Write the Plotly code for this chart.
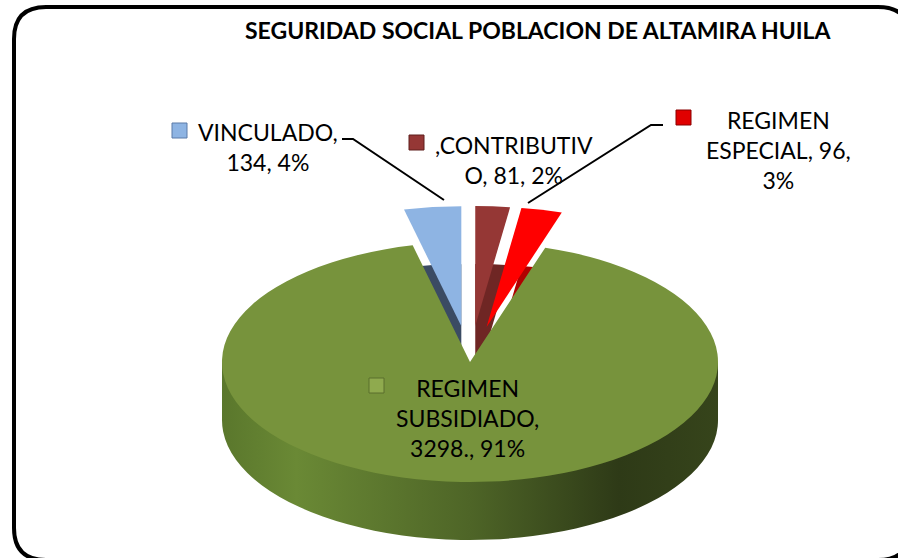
import plotly.graph_objects as go

# ---- data ----
categories = ["CONTRIBUTIVO", "REGIMEN ESPECIAL", "REGIMEN SUBSIDIADO", "VINCULADO"]
values = [81, 96, 3298, 134]
label_texts = [",CONTRIBUTIV<br>O, 81, 2%",
               "REGIMEN<br>ESPECIAL, 96,<br>3%",
               "REGIMEN<br>SUBSIDIADO,<br>3298., 91%",
               "VINCULADO,<br>134, 4%"]
title_text = "SEGURIDAD SOCIAL POBLACION DE ALTAMIRA HUILA"

# ---- styles ----
W, H = 898, 558
pulls = [0.3, 0.3, 0.0, 0.3]
top_colors = ["#953735", "#FF0000", "#77933C", "#8EB4E3"]
side_colors = ["#6F2624", "#B00000", "#4A5D25", "#3B4B63"]
key_colors = ["#953735", "#E00000", "#8FAA4E", "#8EB4E3"]
key_lines = ["#5E1E1C", "#8A0000", "#5A6E2C", "#5A7AA8"]
FONT = "Lato, 'Open Sans', sans-serif"

# pixel geometry of the ellipse
CX, CY, RX, RY, DEPTH = 470, 362, 248, 120, 58
R = min(W, H) / (2 + 2 * max(pulls))
sx, sy = RX / R, RY / R


def px(x):
    return x / W


def py(y):
    return 1 - y / H


fig = go.Figure()
for name, cols in (("side", side_colors), ("top", top_colors)):
    fig.add_trace(go.Pie(
        labels=categories, values=values, sort=False, direction="clockwise",
        rotation=0, pull=pulls, textinfo="none", hoverinfo="skip",
        marker=dict(colors=cols, line=dict(width=0)), showlegend=False,
        name=name,
    ))

shapes = []
# fill between top face and side ellipse (cylinder wall)
shapes.append(dict(type="rect", xref="paper", yref="paper", layer="below",
                   x0=px(CX - RX), x1=px(CX + RX), y0=py(CY + DEPTH), y1=py(CY),
                   fillcolor=side_colors[2], line=dict(width=0)))

# legend keys next to labels
key_pos = [(409, 135), (676, 110), (369, 378), (172, 123)]
for (kx, ky), c, lc in zip(key_pos, key_colors, key_lines):
    shapes.append(dict(type="rect", xref="paper", yref="paper",
                       x0=px(kx), x1=px(kx + 15), y0=py(ky + 15), y1=py(ky),
                       fillcolor=c, line=dict(color=lc, width=1)))


def path(points):
    return "M " + " L ".join(f"{px(x):.5f},{py(y):.5f}" for x, y in points)


# leader lines
shapes.append(dict(type="path", xref="paper", yref="paper",
                   path=path([(342, 139), (353, 139), (444, 200)]),
                   line=dict(color="black", width=2)))
shapes.append(dict(type="path", xref="paper", yref="paper",
                   path=path([(663, 125), (651, 125), (528, 203)]),
                   line=dict(color="black", width=2)))

# rounded chart border
bx0, by0, bx1, by1, rr = 14, 7, 910, 560, 32
pts = (f"M {px(bx0 + rr)},{py(by0)} L {px(bx1 - rr)},{py(by0)} "
       f"Q {px(bx1)},{py(by0)} {px(bx1)},{py(by0 + rr)} "
       f"L {px(bx1)},{py(by1 - rr)} Q {px(bx1)},{py(by1)} {px(bx1 - rr)},{py(by1)} "
       f"L {px(bx0 + rr)},{py(by1)} Q {px(bx0)},{py(by1)} {px(bx0)},{py(by1 - rr)} "
       f"L {px(bx0)},{py(by0 + rr)} Q {px(bx0)},{py(by0)} {px(bx0 + rr)},{py(by0)} Z")
shapes.append(dict(type="path", xref="paper", yref="paper", path=pts,
                   line=dict(color="black", width=4)))

annotations = []
label_pos = [(514, 160), (778, 150), (467, 418), (268, 147)]
for (lx, ly), t in zip(label_pos, label_texts):
    annotations.append(dict(text=t, x=px(lx), y=py(ly), xref="paper", yref="paper",
                            xanchor="center", yanchor="middle", showarrow=False,
                            align="center", font=dict(family=FONT, size=23, color="black")))
annotations.append(dict(text=f"<b>{title_text}</b>", x=px(538), y=py(30), xref="paper",
                        yref="paper", xanchor="center", yanchor="middle", showarrow=False,
                        font=dict(family=FONT, size=23, color="black")))

fig.update_layout(width=W, height=H, margin=dict(l=0, r=0, t=0, b=0),
                  paper_bgcolor="white", plot_bgcolor="white",
                  shapes=shapes, annotations=annotations)

cx0, cy0 = W / 2, H / 2
css = (
    "body { margin: 0; } "
    f".pielayer > g.trace:nth-of-type(1) {{ transform-origin: {cx0}px {cy0}px; "
    f"transform: translate({CX - cx0}px, {CY + DEPTH - cy0}px) scale({sx:.4f}, {sy:.4f}); }} "
    f".pielayer > g.trace:nth-of-type(2) {{ transform-origin: {cx0}px {cy0}px; "
    f"transform: translate({CX - cx0}px, {CY - cy0}px) scale({sx:.4f}, {sy:.4f}); }} "
)
grad = ('<linearGradient id="sideGrad" x1="0" y1="0" x2="1" y2="0">'
        '<stop offset="0" stop-color="#5A772C"/>'
        '<stop offset="0.15" stop-color="#6A8935"/>'
        '<stop offset="0.5" stop-color="#4E6527"/>'
        '<stop offset="0.8" stop-color="#2E3A17"/>'
        '<stop offset="1" stop-color="#36441B"/></linearGradient>')
post = (
    "var s=document.createElement('style');s.textContent=" + repr(css) + ";"
    "document.head.appendChild(s);"
    "var d=document.querySelector('.main-svg defs');"
    "if(d){d.insertAdjacentHTML('beforeend'," + repr(grad) + ");}"
    "var tr=document.querySelectorAll('.pielayer g.trace');"
    "if(tr.length){var sl=tr[0].querySelectorAll('g.slice');"
    "if(sl.length>2){var p=sl[2].querySelector('path');if(p){p.style.fill='url(#sideGrad)';}}}"
    "var bs=document.querySelectorAll('.layer-below .shapelayer path');"
    "if(bs.length){bs[0].style.fill='url(#sideGrad)';}"
)
fig.write_html("out.html", post_script=post, config={"displayModeBar": False})
